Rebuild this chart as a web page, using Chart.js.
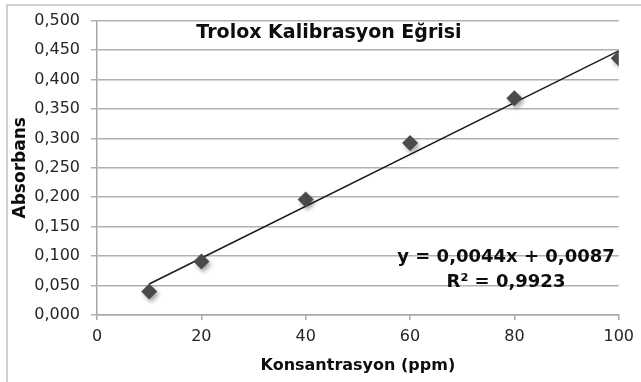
<!DOCTYPE html>
<html>
<head>
<meta charset="utf-8">
<script src="https://cdn.jsdelivr.net/npm/chart.js@4.4.1/dist/chart.umd.min.js"></script>
<style>
  html, body { margin: 0; padding: 0; background: #ffffff; }
  #wrap { position: relative; width: 641px; height: 382px; overflow: hidden; }
  #frame { position: absolute; left: 6px; top: 4px; width: 700px; height: 400px;
           border-left: 2px solid #cfcfcf; border-top: 2px solid #cfcfcf; }
  #c { position: absolute; left: 0; top: 0; }
</style>
</head>
<body>
<div id="wrap">
  <div id="frame"></div>
  <canvas id="c" width="641" height="382"></canvas>
</div>
<script>
// ---- data ----
const concentrations = [10, 20, 40, 60, 80, 100];           // ppm
const absorbances    = [0.040, 0.091, 0.196, 0.292, 0.368, 0.436];
const trendSlope     = 0.0044;
const trendIntercept = 0.0087;
const trendRangeX    = [10, 100];
const chartTitle     = 'Trolox Kalibrasyon Eğrisi';
const equationLines  = ['y = 0,0044x + 0,0087', 'R² = 0,9923'];
const xAxisTitle     = 'Konsantrasyon (ppm)';
const yAxisTitle     = 'Absorbans';
const xTicks         = [0, 20, 40, 60, 80, 100];
const yTicks         = [0, 0.05, 0.1, 0.15, 0.2, 0.25, 0.3, 0.35, 0.4, 0.45, 0.5];

const FONT = "'DejaVu Sans', 'Liberation Sans', Arial, sans-serif";

const points = concentrations.map((x, i) => ({ x: x, y: absorbances[i] }));
const trend = trendRangeX.map(x => ({ x: x, y: trendSlope * x + trendIntercept }));

const shadowPlugin = {
  id: 'markerShadow',
  beforeDatasetDraw(chart, args) {
    if (args.index === 1) {
      const ctx = chart.ctx;
      ctx.save();
      ctx.shadowColor = 'rgba(0,0,0,0.35)';
      ctx.shadowBlur = 4;
      ctx.shadowOffsetX = 2;
      ctx.shadowOffsetY = 3;
    }
  },
  afterDatasetDraw(chart, args) {
    if (args.index === 1) chart.ctx.restore();
  }
};

const textPlugin = {
  id: 'chartTexts',
  afterDraw(chart) {
    const ctx = chart.ctx;
    ctx.save();
    ctx.fillStyle = '#0d0d0d';
    ctx.textBaseline = 'middle';
    ctx.textAlign = 'center';
    ctx.font = "bold 19px " + FONT;
    ctx.fillText(chartTitle, 329, 33);
    ctx.font = "bold 18px " + FONT;
    ctx.fillText(equationLines[0], 506, 257);
    ctx.fillText(equationLines[1], 506, 282);
    ctx.restore();
  }
};

new Chart(document.getElementById('c'), {
  type: 'scatter',
  data: {
    datasets: [
      {
        type: 'line',
        data: trend,
        borderColor: '#1a1a1a',
        borderWidth: 1.5,
        pointRadius: 0,
        fill: false,
        order: 2
      },
      {
        data: points,
        pointStyle: 'rectRot',
        pointRadius: 8,
        pointBackgroundColor: '#4a4a4a',
        pointBorderColor: '#4a4a4a',
        pointBorderWidth: 0,
        order: 1
      }
    ]
  },
  options: {
    responsive: false,
    animation: false,
    devicePixelRatio: 1,
    layout: { padding: { left: 0, top: 19, right: 21, bottom: 0 } },
    plugins: { legend: { display: false }, tooltip: { enabled: false }, title: { display: false } },
    scales: {
      x: {
        type: 'linear',
        min: 0, max: 100,
        afterBuildTicks(scale) { scale.ticks = xTicks.map(v => ({ value: v })); },
        afterFit(scale) { scale.height = 67; },
        grid: { display: true, drawOnChartArea: false, drawTicks: true, tickLength: 5, color: '#a8a8a8', lineWidth: 1.5 },
        border: { display: true, color: '#a8a8a8', width: 1.5 },
        ticks: { color: '#262626', font: { family: FONT, size: 16 }, padding: 7, maxRotation: 0,
                 callback: v => String(v) },
        title: { display: true, text: xAxisTitle, color: '#0d0d0d', font: { family: FONT, size: 16, weight: 'bold' },
                 padding: { top: 0, bottom: 7 } }
      },
      y: {
        type: 'linear',
        min: 0, max: 0.5,
        afterBuildTicks(scale) { scale.ticks = yTicks.map(v => ({ value: v })); },
        afterFit(scale) { scale.width = 97; },
        grid: { display: true, drawOnChartArea: true, drawTicks: true, tickLength: 6, color: '#b0b0b0', lineWidth: 1.5 },
        border: { display: true, color: '#a8a8a8', width: 1.5 },
        ticks: { color: '#262626', font: { family: FONT, size: 16 }, padding: 11,
                 callback: v => v.toFixed(3).replace('.', ',') },
        title: { display: true, text: yAxisTitle, color: '#0d0d0d', font: { family: FONT, size: 17, weight: 'bold' },
                 padding: { top: 10, bottom: 0 } }
      }
    }
  },
  plugins: [shadowPlugin, textPlugin]
});
</script>
</body>
</html>
